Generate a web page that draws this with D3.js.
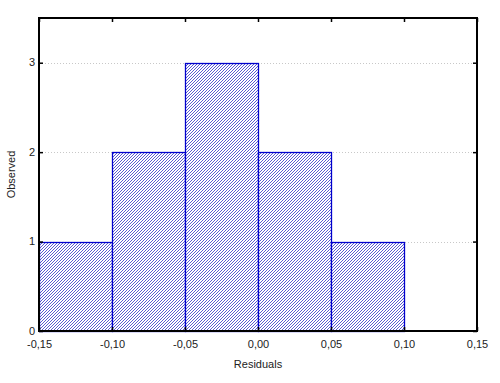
<!DOCTYPE html>
<html><head><meta charset="utf-8">
<script src="https://cdn.jsdelivr.net/npm/d3@7"></script>
<style>body{margin:0;background:#fff}svg{display:block;font-family:"Liberation Sans",Arial,sans-serif}</style>
</head><body>
<svg id="c" width="500" height="383"></svg>
<script>
const binStarts = [-0.15, -0.10, -0.05, 0.00, 0.05];
const binEnds   = [-0.10, -0.05, 0.00, 0.05, 0.10];
const counts    = [1, 2, 3, 2, 1];
const xTicks    = [-0.15, -0.10, -0.05, 0.00, 0.05, 0.10, 0.15];
const yTicks    = [0, 1, 2, 3];

const svg = d3.select("#c");
const L = 39, R = 477, T = 18, B = 331;
const x = d3.scaleLinear().domain([-0.15, 0.15]).range([L, R]);
const y = d3.scaleLinear().domain([0, 3.5]).range([B, T]);
const fmt = d => d3.format(".2f")(d).replace(".", ",").replace("−", "-");

const defs = svg.append("defs");
const pat = defs.append("pattern").attr("id","hatch").attr("patternUnits","userSpaceOnUse")
  .attr("width",3).attr("height",3);
pat.append("rect").attr("width",3).attr("height",3).attr("fill","#fff");
[[0,2],[1,1],[2,0]].forEach(([px,py])=>pat.append("rect").attr("x",px).attr("y",py)
  .attr("width",1).attr("height",1).attr("fill","#5a5ad2").attr("shape-rendering","crispEdges"));

// grid
svg.append("g").selectAll("line").data(yTicks.filter(d=>d>0)).join("line")
  .attr("x1",L).attr("x2",R).attr("y1",d=>Math.round(y(d))+0.5).attr("y2",d=>Math.round(y(d))+0.5)
  .attr("stroke","#c8c8c8").attr("stroke-dasharray","1,2");

// bars
svg.append("g").selectAll("rect").data(counts).join("rect")
  .attr("x",(d,i)=>Math.round(x(binStarts[i]))+0.5)
  .attr("y",d=>Math.round(y(d))+0.5)
  .attr("width",(d,i)=>Math.round(x(binEnds[i]))-Math.round(x(binStarts[i])))
  .attr("height",d=>Math.round(y(0))-Math.round(y(d)))
  .attr("fill","url(#hatch)").attr("stroke","#0000cc").attr("stroke-width",1.3);

// frame
svg.append("rect").attr("x",L).attr("y",T).attr("width",R-L).attr("height",B-T)
  .attr("fill","none").attr("stroke","#000").attr("stroke-width",2);

// axes
const xb = svg.append("g").attr("transform",`translate(0,${B})`)
  .call(d3.axisBottom(x).tickValues(xTicks).tickFormat(fmt).tickSize(-4).tickPadding(9));
const xt = svg.append("g").attr("transform",`translate(0,${T})`)
  .call(d3.axisTop(x).tickValues(xTicks).tickFormat("").tickSize(-4));
const yl = svg.append("g").attr("transform",`translate(${L},0)`)
  .call(d3.axisLeft(y).tickValues(yTicks).tickFormat(d3.format("d")).tickSize(-4).tickPadding(8));
const yr = svg.append("g").attr("transform",`translate(${R},0)`)
  .call(d3.axisRight(y).tickValues(yTicks).tickFormat("").tickSize(-4));
[xb,xt,yl,yr].forEach(g=>{
  g.select(".domain").remove();
  g.selectAll(".tick line").attr("stroke","#000").attr("stroke-width",1.5);
  g.selectAll("text").attr("font-size",11).attr("fill","#222").attr("font-family","Liberation Sans, Arial, sans-serif");
});
xb.selectAll("text").attr("dy","0.71em");
yl.selectAll("text").attr("dx","4").attr("dy","0.28em");

svg.append("text").attr("x",(L+R)/2).attr("y",368).attr("text-anchor","middle")
  .attr("font-size",11).attr("fill","#222").text("Residuals");
svg.append("text").attr("transform",`translate(15,${(T+B)/2}) rotate(-90)`).attr("text-anchor","middle")
  .attr("font-size",11).attr("fill","#222").text("Observed");
</script>
</body></html>
